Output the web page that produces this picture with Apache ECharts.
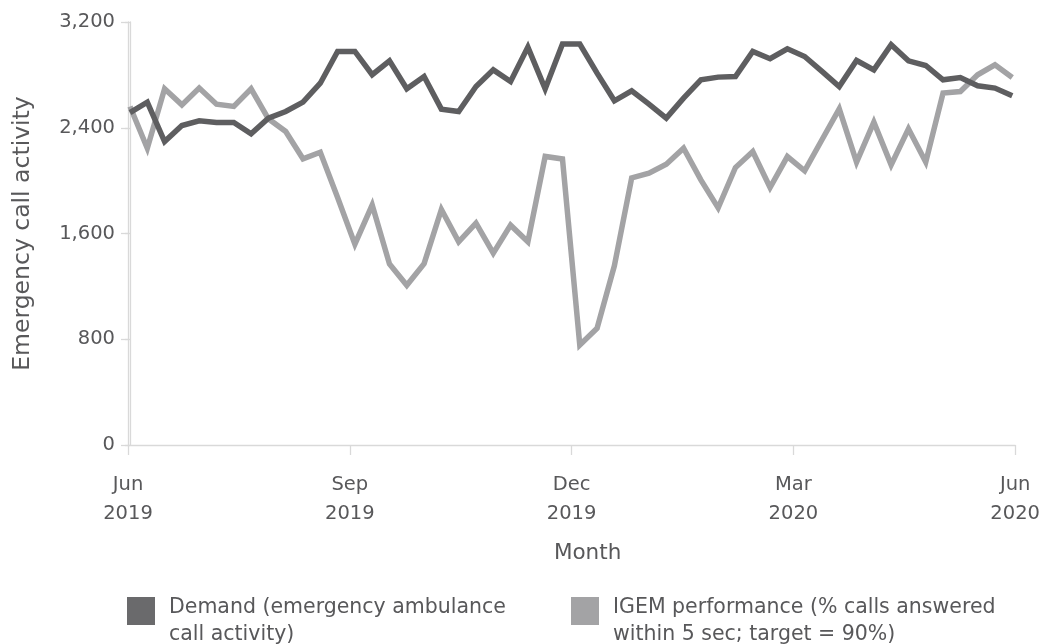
<!DOCTYPE html>
<html>
<head>
<meta charset="utf-8">
<script src="https://cdn.jsdelivr.net/npm/echarts@6/dist/echarts.min.js"></script>
<style>
  html, body { margin: 0; padding: 0; background: #ffffff; }
  #chart { width: 1043px; height: 644px; }
</style>
</head>
<body>
<div id="chart"></div>
<script>
// ---- Data ----
const monthLabels = ['Jun\n2019', 'Sep\n2019', 'Dec\n2019', 'Mar\n2020', 'Jun\n2020'];
const yTicks = [0, 800, 1600, 2400, 3200];

// Weekly demand (emergency ambulance call activity), Jun 2019 - Jun 2020
const demand = [2515, 2594, 2296, 2417, 2452, 2440, 2440, 2354, 2473, 2523,
                2594, 2737, 2977, 2977, 2801, 2906, 2695, 2788, 2541, 2523,
                2712, 2838, 2750, 3010, 2695, 3033, 3033, 2813, 2604, 2679,
                2579, 2473, 2624, 2763, 2783, 2788, 2977, 2922, 2997, 2939,
                2826, 2712, 2909, 2838, 3028, 2906, 2871, 2763, 2780, 2717,
                2700, 2642];

// Weekly IGEM performance, drawn on the same visual scale
const igem = [2561, 2245, 2695, 2573, 2700, 2578, 2561, 2695, 2468, 2372,
              2165, 2215, 1872, 1519, 1815, 1370, 1208, 1372, 1782, 1537,
              1678, 1451, 1663, 1537, 2183, 2164, 757, 883, 1356, 2021,
              2056, 2124, 2245, 2006, 1794, 2099, 2220, 1948, 2182, 2074,
              2309, 2543, 2140, 2442, 2119, 2392, 2140, 2662, 2674, 2801,
              2876, 2780];

const seriesNames = ['Demand (emergency ambulance\ncall activity)',
                     'IGEM performance (% calls answered\nwithin 5 sec; target = 90%)'];

// ---- Chart ----
const FONT = 'DejaVu Sans';
const TEXT = '#58585a';
const AXIS = '#d9d9d9';
const DARK = '#5e5e60';
const LIGHT = '#a3a3a5';

const chart = echarts.init(document.getElementById('chart'), null, { renderer: 'canvas' });

const legendText = {
  fontFamily: FONT, fontSize: 20.5, lineHeight: 27, color: TEXT, padding: [0, 0, 0, 9],
  rich: {
    s: { fontSize: 1, lineHeight: 20 },
    t: { fontFamily: FONT, fontSize: 20.5, lineHeight: 27, color: TEXT }
  }
};
const legendFormatter = (name) =>
  '{s| }\n' + name.split('\n').map(l => '{t|' + l + '}').join('\n');

const option = {
  backgroundColor: '#ffffff',
  animation: false,
  textStyle: { fontFamily: FONT },
  grid: { left: 128, right: 27, top: 22, bottom: 199, containLabel: false },
  legend: [
    {
      left: 122, top: 569,
      icon: 'rect', itemWidth: 28, itemHeight: 28,
      data: [seriesNames[0]],
      selectedMode: false,
      formatter: legendFormatter,
      textStyle: legendText
    },
    {
      left: 566, top: 569,
      icon: 'rect', itemWidth: 28, itemHeight: 28,
      data: [seriesNames[1]],
      selectedMode: false,
      formatter: legendFormatter,
      textStyle: legendText
    }
  ],
  xAxis: [
    {
      type: 'value',
      min: 0, max: monthLabels.length - 1, interval: 1,
      name: 'Month',
      nameLocation: 'middle',
      nameGap: 97,
      nameTextStyle: { fontFamily: FONT, fontSize: 21.5, color: TEXT, padding: [0, 0, 0, 32] },
      axisLine: { show: true, lineStyle: { color: AXIS, width: 1.3 } },
      axisTick: { show: true, length: 10, lineStyle: { color: AXIS, width: 1.3 } },
      splitLine: { show: false },
      axisLabel: {
        fontFamily: FONT, fontSize: 19.5, lineHeight: 29, color: TEXT, margin: 25,
        formatter: (v) => monthLabels[Math.round(v)] || ''
      }
    },
    {
      type: 'value',
      min: -0.116, max: demand.length - 1 + 0.17,
      show: false,
      splitLine: { show: false }
    }
  ],
  yAxis: [
    {
      type: 'value',
      min: yTicks[0], max: yTicks[yTicks.length - 1], interval: yTicks[1] - yTicks[0],
      name: 'Emergency call activity',
      nameLocation: 'middle',
      nameGap: 93,
      nameTextStyle: { fontFamily: FONT, fontSize: 23.5, color: TEXT },
      axisLine: { show: true, lineStyle: { color: AXIS, width: 1.3 } },
      axisTick: { show: true, length: 7, lineStyle: { color: AXIS, width: 1.3 } },
      splitLine: { show: false },
      axisLabel: {
        fontFamily: FONT, fontSize: 19.5, color: TEXT, margin: 13,
        formatter: (v) => v.toLocaleString('en-US')
      }
    },
    {
      type: 'value',
      position: 'right',
      min: yTicks[0], max: yTicks[yTicks.length - 1], interval: yTicks[1] - yTicks[0],
      axisLine: { show: true, lineStyle: { color: AXIS, width: 1.3 } },
      axisTick: { show: true, inside: true, length: 5, lineStyle: { color: AXIS, width: 1.3 } },
      splitLine: { show: false },
      axisLabel: { show: false }
    }
  ],
  series: [
    {
      name: seriesNames[1],
      type: 'line',
      xAxisIndex: 1, yAxisIndex: 0,
      data: igem.map((v, i) => [i, v]),
      showSymbol: false, symbol: 'none',
      color: LIGHT,
      lineStyle: { color: LIGHT, width: 5.5, join: 'miter' },
      itemStyle: { color: LIGHT },
      z: 2
    },
    {
      name: seriesNames[0],
      type: 'line',
      xAxisIndex: 1, yAxisIndex: 0,
      data: demand.map((v, i) => [i, v]),
      showSymbol: false, symbol: 'none',
      color: DARK,
      lineStyle: { color: DARK, width: 5.5, join: 'miter' },
      itemStyle: { color: '#6a6a6c' },
      z: 3
    }
  ]
};

chart.setOption(option);
</script>
</body>
</html>
